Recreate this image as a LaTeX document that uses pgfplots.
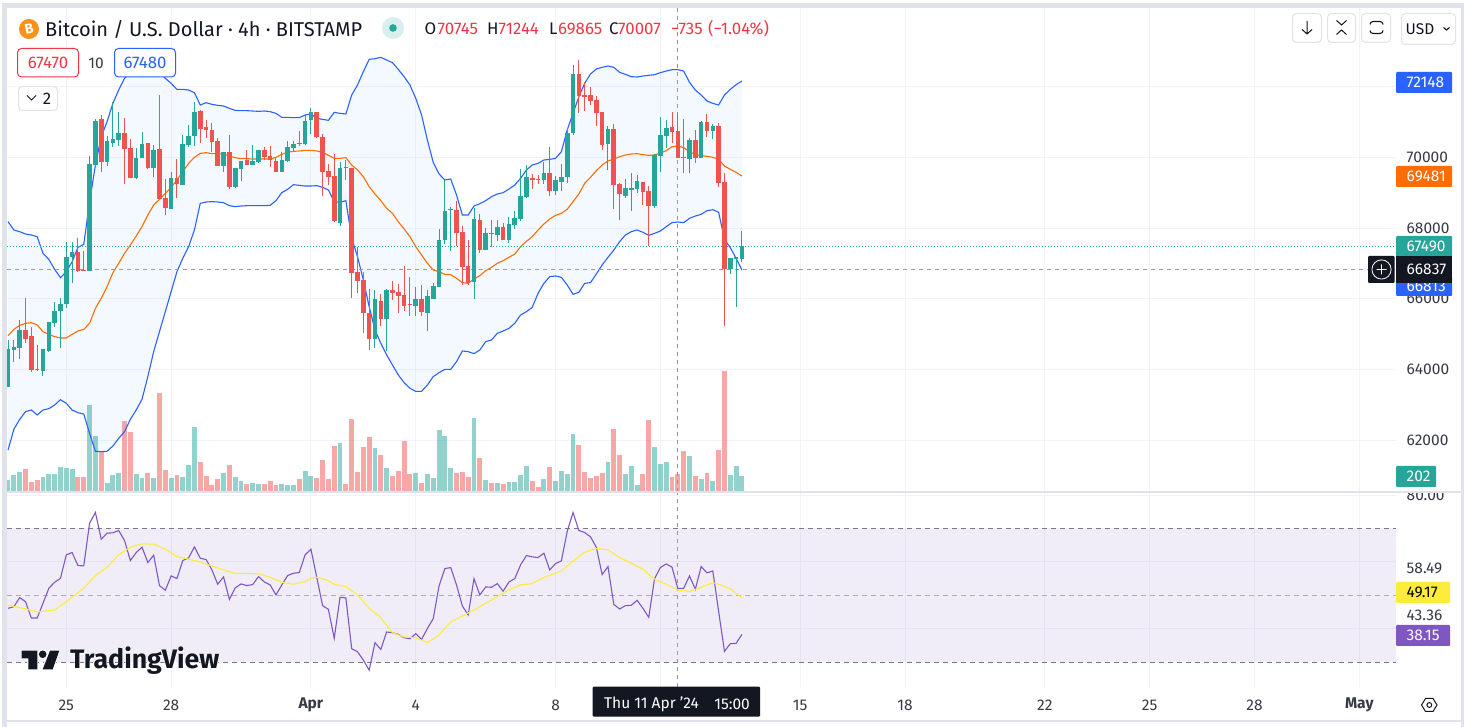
\documentclass[border=0pt]{standalone}
\usepackage{fontspec}
\setmainfont{Fira Sans}
\usepackage{pgfplots}
\usepackage{pgfplotstable}
\pgfplotsset{compat=1.18}
\definecolor{cup}{HTML}{26A69A}
\definecolor{cdown}{HTML}{EF5350}
\definecolor{bblue}{HTML}{2962FF}
\definecolor{bfill}{HTML}{2196F3}
\definecolor{basis}{HTML}{FF6D00}
\definecolor{rsi}{HTML}{7E57C2}
\definecolor{rsima}{HTML}{FFEB3B}
\definecolor{framec}{HTML}{E0E3EB}
\definecolor{gridc}{HTML}{F0F3FA}
\definecolor{darkc}{HTML}{131722}
\definecolor{txtc}{HTML}{363A45}
\definecolor{headred}{HTML}{F23645}
\definecolor{crossc}{HTML}{9598A1}
\definecolor{hlinec}{HTML}{787B86}
\definecolor{btc}{HTML}{F7931A}
% i open high low close volume
\pgfplotstableread{
i o h l c v
0 63516 64835 63497 64581 152
1 64562 64835 64223 64637 215
2 64618 65400 64298 65118 253
6 63959 64581 63827 64581 189
7 64515 65344 64505 65344 227
8 65325 65919 65212 65655 227
9 65655 66013 64618 65843 316
10 65853 67596 65749 67172 303
11 67181 67596 66437 67313 290
14 66795 70036 66795 69810 1099
15 69782 71082 69735 71026 707
17 69876 70602 69763 70451 114
18 70413 71572 70300 70517 215
19 70489 71290 70319 70687 240
22 69415 70272 69386 69980 227
23 69989 70715 69971 70376 177
25 69697 70347 69452 70206 177
28 68548 69575 68548 69405 177
30 69226 70630 69226 70376 189
31 70347 70913 70300 70602 341
32 70602 71572 70319 71280 821
37 69763 70140 69594 70140 240
39 69160 69697 69122 69697 189
40 69678 69895 69330 69895 139
42 69791 70347 69782 69895 114
43 69867 70206 69848 70206 101
47 69584 70140 69584 69923 101
48 69895 70470 69867 70291 88
49 70263 70461 70168 70376 88
51 70376 71195 70347 71026 265
52 71054 71393 70668 71280 202
57 68142 69867 68058 69697 619
63 64863 66248 64609 65994 556
65 65429 66277 64524 66248 303
70 65796 66333 65513 65994 240
72 65598 66248 65089 66079 227
73 65994 66446 65994 66361 177
74 66333 67973 66333 67662 783
75 67662 69358 67549 68482 707
76 68510 68595 67351 68538 303
80 66475 68566 65994 68256 935
82 67379 68001 67379 67860 152
84 67803 68227 67634 68029 114
86 67662 68312 67577 68114 126
87 68086 68482 67973 68284 126
88 68256 69669 68199 68906 215
89 68877 69782 68849 69443 328
92 69358 69867 69245 69556 164
94 69047 69471 68934 69358 139
95 69301 69810 69047 69443 265
96 69443 70828 69273 70687 227
97 70687 72609 70630 72355 733
103 70376 70885 69641 70800 379
106 68906 69386 68849 69132 227
107 69085 69556 68482 69132 328
108 69104 69499 68991 69330 88
111 68623 70093 68566 70065 568
112 70036 71139 69584 70630 354
113 70602 71054 70263 70828 379
117 69952 70545 69556 70489 455
119 69980 71026 69980 70998 164
121 70743 70941 70517 70885 139
124 66842 67153 66701 67153 215
125 67125 67191 65768 67172 328
126 67125 67916 67040 67490 202
}\upbars
\pgfplotstableread{
i o h l c v
3 65118 66013 64741 64863 290
4 64948 65212 63940 63987 126
5 64006 64694 63968 63977 152
12 67323 67709 66767 66795 189
13 66814 67341 66795 66795 189
16 71082 71195 69594 69876 505
20 70687 71111 69245 70244 897
21 70263 70517 69405 69424 758
24 70404 70404 69669 69697 240
26 70234 71761 68830 68830 1250
27 68840 69377 68369 68576 278
29 69405 69952 68840 69245 215
33 71309 71337 70413 70800 379
34 70847 71054 70536 70781 202
35 70772 70960 70159 70432 88
36 70461 70536 69763 69763 164
38 70140 70630 69094 69160 341
41 69914 70206 69782 69782 101
44 70206 70291 69923 69999 101
45 70027 70319 69735 69923 139
46 69895 69971 69584 69584 88
50 70404 70743 70319 70376 164
53 71280 71280 70545 70574 177
54 70574 70658 68906 69584 404
55 69612 69810 69217 69443 164
56 69471 70093 68171 68199 581
58 69725 69923 69358 69697 101
59 69697 69697 66022 66729 922
60 66757 67473 66164 66503 253
61 66531 66757 65023 65598 568
62 65598 66277 64552 64863 695
64 65938 66135 65231 65429 467
66 66248 66503 65966 66164 202
67 66192 66418 65598 66079 265
68 66107 66927 65655 65796 644
69 65853 66616 65513 65824 227
71 65994 66390 65513 65626 114
77 68510 68764 67492 67860 240
78 67888 68058 66390 66899 253
79 66927 67662 66390 66446 189
81 68227 68397 67294 67379 429
83 67860 68227 67464 67831 114
85 68029 68142 67662 67662 101
90 69415 69528 69104 69358 139
91 69386 69499 69245 69358 63
93 69556 70291 68906 69047 316
98 72355 72750 71252 71733 594
99 71761 72128 71309 71704 253
100 71761 71987 71478 71591 177
101 71620 71733 70885 71252 202
102 71280 71280 70206 70347 240
104 70800 70941 68538 69217 796
105 69245 69273 68227 68962 467
109 69301 69301 68651 69019 227
110 69047 69188 67492 68623 909
114 70856 71280 70404 70715 189
115 70743 71252 69980 69980 227
116 70008 71082 69556 69980 518
118 70489 70772 69839 69980 202
120 70998 71224 70574 70743 240
122 70885 70969 69160 69273 530
123 69301 69556 65231 66833 1528
}\downbars
% bollinger: upper basis lower
\pgfplotstableread{
i u b w
0 68180 64958 61725
1 67945 65136 62310
2 67897 65249 62592
3 67832 65306 62809
4 67803 65325 62856
5 67756 65259 62715
6 67285 65071 62856
7 67115 64995 62894
8 66833 64929 62997
9 66597 64892 63148
10 66767 64892 63045
11 67049 64995 62856
12 67455 65089 62781
13 67539 65136 62743
14 68746 65306 62197
15 69782 65730 61688
16 70583 66013 61678
17 71007 66343 61688
18 71525 66738 61838
19 71902 67002 62055
20 72232 67285 62244
21 72373 67521 62592
22 72515 67775 62856
23 72562 68039 63158
24 72562 68369 63799
25 72515 68651 64505
26 72420 68811 65071
27 72232 68981 65636
28 72091 69151 66201
29 71921 69358 66767
30 71921 69594 67144
31 71902 69829 67473
32 71827 69999 67945
33 71478 70112 68698
34 71544 70131 68736
35 71497 70102 68746
36 71469 70102 68736
37 71450 70093 68717
38 71384 70036 68632
39 71327 69989 68604
40 71318 69961 68623
41 71318 69961 68632
42 71309 69952 68632
43 71299 69952 68632
44 71309 69952 68632
45 71290 69952 68642
46 71243 69999 68774
47 71130 70084 69000
48 71130 70140 69094
49 71120 70168 69226
50 71120 70178 69207
51 71195 70197 69188
52 71224 70197 69188
53 71101 70178 69198
54 71073 70140 69151
55 71045 70055 69075
56 71271 69970 68746
57 71243 69970 68727
58 71224 69989 68774
59 71761 69782 67709
60 72044 69641 67191
61 72420 69452 66531
62 72769 69170 65777
63 72788 68962 65118
64 72826 68774 64741
65 72750 68557 64411
66 72675 68416 64128
67 72486 68180 63846
68 72279 67973 63629
69 72044 67756 63469
70 71667 67473 63384
71 71195 67238 63384
72 70489 67002 63563
73 69857 66814 63799
74 69528 66767 63911
75 69358 66691 64006
76 69386 66682 64006
77 68934 66578 64223
78 68369 66456 64524
79 68369 66437 64505
80 68623 66559 64449
81 68689 66654 64552
82 68774 66795 64788
83 68887 66889 64835
84 68962 67002 65023
85 69000 67078 65089
86 69104 67172 65165
87 69217 67266 65306
88 69405 67473 65542
89 69641 67624 65636
90 69782 67756 65758
91 69829 67945 66154
92 69923 68114 66437
93 69942 68256 66625
94 69970 68359 66644
95 70159 68416 66606
96 70772 68529 66390
97 71243 68746 66126
98 71714 68962 66182
99 72091 69264 66437
100 72355 69433 66456
101 72496 69622 66701
102 72543 69782 66955
103 72581 69895 67172
104 72543 69952 67379
105 72402 70018 67615
106 72345 70065 67803
107 72279 70093 67897
108 72270 70102 67945
109 72298 70074 67879
110 72317 70055 67794
111 72336 70065 67850
112 72392 70121 67916
113 72439 70187 68039
114 72477 70300 68152
115 72477 70319 68171
116 72439 70272 68152
117 72119 70159 68274
118 71902 70074 68340
119 71761 70046 68387
120 71591 70027 68491
121 71525 69999 68519
122 71478 69942 68444
123 71761 69754 67681
124 71921 69660 67445
125 72053 69575 67144
126 72157 69471 66814
}\bands
\pgfplotstableread{
i r
0 46.1
1 46.6
2 49.3
3 48.1
4 43.2
5 43.2
6 47.6
7 52.1
8 53.9
9 55.1
10 62.1
11 62.8
12 58.9
13 58.8
14 71.6
15 74.8
16 66.8
17 68.6
18 68.7
19 69.4
20 66.4
21 60.4
22 62.8
23 64.4
24 59.8
25 62.0
26 52.9
27 51.5
28 55.8
29 55.0
30 60.4
31 61.2
32 64.5
33 61.1
34 60.7
35 57.6
36 53.3
37 55.5
38 48.8
39 52.2
40 53.4
41 52.9
42 53.2
43 55.6
44 54.0
45 53.1
46 50.1
47 53.1
48 55.9
49 56.6
50 56.8
51 62.1
52 63.8
53 55.4
54 46.9
55 45.8
56 37.1
57 49.4
58 49.2
59 34.0
60 33.1
61 30.6
62 27.6
63 35.8
64 33.8
65 39.0
66 38.8
67 38.3
68 37.3
69 37.0
70 38.5
71 36.8
72 40.1
73 43.0
74 52.8
75 58.0
76 58.3
77 53.1
78 46.8
79 44.1
80 55.0
81 50.1
82 52.5
83 52.4
84 53.5
85 51.2
86 54.0
87 55.0
88 59.1
89 61.9
90 61.5
91 61.3
92 62.6
93 57.6
94 59.5
95 60.3
96 69.1
97 74.8
98 69.4
99 68.8
100 67.5
101 64.4
102 56.2
103 58.6
104 47.3
105 45.9
106 46.9
107 47.0
108 48.5
109 46.1
110 43.4
111 55.0
112 58.3
113 59.4
114 58.4
115 52.0
116 52.1
117 55.8
118 51.8
119 58.6
120 56.7
121 57.3
122 45.2
123 33.2
124 35.5
125 35.6
126 38.3
}\rsitab
\pgfplotstableread{
i m
0 47.1
3 45.9
5 45.0
8 45.6
10 48.1
13 52.1
15 55.9
17 58.4
19 62.1
21 64.4
23 65.4
25 65.3
27 63.8
29 61.6
32 60.4
35 58.8
37 57.6
39 56.5
41 56.6
43 56.4
45 55.4
47 53.9
49 53.3
51 54.1
52 55.1
53 55.4
55 54.4
56 53.3
58 52.6
60 50.1
62 46.1
64 43.3
66 38.8
68 37.5
70 37.3
72 35.8
74 38.1
76 42.0
78 43.8
80 45.6
82 47.6
84 49.6
86 51.6
88 53.1
90 53.5
92 55.4
94 56.6
95 57.3
97 60.2
99 62.9
101 64.0
103 63.6
105 61.3
107 59.6
109 57.8
111 54.8
113 53.3
115 51.6
117 51.2
119 52.4
121 53.8
122 53.3
124 51.9
126 49.3
}\rsimatab
\newcommand\tickf{\fontsize{15.5}{17}\selectfont}
\newcommand\headf{\fontsize{16.8}{19}\selectfont}
\pgfplotsset{
  pane/.style={
    scale only axis, width=1389pt,
    xmin=-0.18, xmax=238.3,
    axis line style={draw=none}, tick style={draw=none},
    major tick length=0pt,
    xtick=\empty, ytick=\empty,
  },
  mainpane/.style={pane, at={(7pt,235pt)}, anchor=south west, height=484pt,
    ymin=60538, ymax=74221},
  wick/.style={draw=none, mark=none, forget plot,
    error bars/.cd, y dir=plus, y explicit, error mark=none,
    error bar style={line width=1pt, draw=#1}},
  body/.style={draw=none, mark=none, forget plot,
    error bars/.cd, y dir=plus, y explicit, error mark=none,
    error bar style={line width=4.6pt, draw=#1}},
}
% coloured price tags on the right scale: top, bottom, right edge, fill, text colour, label
\newcommand\pricetag[6]{%
  \fill[#4, rounded corners=1pt] (1396,#1) rectangle (#3,#2);
  \node[anchor=west, inner sep=0pt, text=#5, font=\tickf] at (1406.5,{(#1+#2)/2}) {#6};
}
\newcommand\btn[4]{\draw[framec, fill=white, rounded corners=4pt, line width=1pt] (#1,#2) rectangle (#3,#4);}
\begin{document}
\begin{tikzpicture}
\path[use as bounding box] (0,0) rectangle (1464pt,727pt);
\fill[white] (0,0) rectangle (1464pt,727pt);

% price grid and scale
\begin{axis}[mainpane,
  xtick={10,28,52,70,94,112,136,154,178,196,214,232}, xticklabels={},
  ytick={62000,64000,66000,68000,70000,72000},
  scaled y ticks=false,
  grid=major, grid style={gridc, line width=1pt},
  ytick pos=right, yticklabel pos=right,
  yticklabel style={/pgf/number format/fixed, /pgf/number format/1000 sep={}, /pgf/number format/assume math mode=true,
    anchor=west, inner sep=0pt, xshift=10.5pt, font=\tickf, text=txtc},
]
\end{axis}

% volume
\begin{axis}[pane, at={(7pt,235pt)}, anchor=south west, height=484pt, ymin=0, ymax=6112]
\addplot[ycomb, line width=4.9pt, draw=cup, opacity=.5] table[x=i, y=v] {\upbars};
\addplot[ycomb, line width=4.9pt, draw=cdown, opacity=.5] table[x=i, y=v] {\downbars};
\end{axis}

% band fill: lower edge, then the width stacked on it
\begin{axis}[mainpane, stack plots=y]
\addplot[draw=none] table[x=i, y=w] {\bands};
\addplot[draw=none, fill=bfill, fill opacity=.05] table[x=i, y expr=\thisrow{u}-\thisrow{w}] {\bands} \closedcycle;
\end{axis}

% candles and bollinger bands
\begin{axis}[mainpane]
\addplot[bblue, line width=1.1pt] table[x=i, y=u] {\bands};
\addplot[bblue, line width=1.1pt] table[x=i, y=w] {\bands};
\addplot[basis, line width=1.1pt] table[x=i, y=b] {\bands};
\addplot[cup, line width=1pt, dash pattern=on 1pt off 2pt] coordinates {(-0.18,67490) (238.3,67490)};
\addplot[crossc, line width=1pt, dash pattern=on 4pt off 4pt] coordinates {(-0.18,66837) (238.3,66837)};
\addplot[crossc, line width=1pt, dash pattern=on 4pt off 4pt] coordinates {(115,60538) (115,74221)};
\addplot[wick=cup] table[x=i, y=l, y error plus expr=\thisrow{h}-\thisrow{l}] {\upbars};
\addplot[wick=cdown] table[x=i, y=l, y error plus expr=\thisrow{h}-\thisrow{l}] {\downbars};
\addplot[body=cup] table[x=i, y=o, y error plus expr=\thisrow{c}-\thisrow{o}] {\upbars};
\addplot[body=cdown] table[x=i, y=c, y error plus expr=\thisrow{o}-\thisrow{c}] {\downbars};
\end{axis}

% rsi pane
\begin{axis}[pane, at={(7pt,40pt)}, anchor=south west, height=194pt,
  ymin=22.54, ymax=80.63,
  xtick={10,28,52,70,94,112,136,154,178,196,214,232},
  xticklabels={25,28,\textbf{Apr},4,8,,15,18,22,25,28,\textbf{May}},
  xticklabel style={anchor=center, inner sep=0pt, yshift=-18pt, font=\tickf, text=txtc},
  ytick={40,60,80}, yticklabels={,,80.00},
  grid=major, grid style={gridc, line width=1pt},
  ytick pos=right, yticklabel pos=right,
  yticklabel style={anchor=west, inner sep=0pt, xshift=10.5pt, font=\tickf, text=txtc},
]
\addplot[draw=none, fill=rsi, fill opacity=.1] coordinates {(-0.18,30) (238.3,30) (238.3,70) (-0.18,70)} \closedcycle;
\addplot[hlinec, line width=1pt, dash pattern=on 5pt off 4pt] coordinates {(-0.18,70) (238.3,70)};
\addplot[hlinec, opacity=.55, line width=1pt, dash pattern=on 5pt off 4pt] coordinates {(-0.18,50) (238.3,50)};
\addplot[hlinec, line width=1pt, dash pattern=on 5pt off 4pt] coordinates {(-0.18,30) (238.3,30)};
\addplot[crossc, line width=1pt, dash pattern=on 4pt off 4pt] coordinates {(115,22.54) (115,80.63)};
\addplot[rsi, line width=1.1pt] table[x=i, y=r] {\rsitab};
\addplot[rsima, line width=1.1pt] table[x=i, y=m] {\rsimatab};
\end{axis}

\begin{scope}[x=1pt, y=-1pt, yshift=727pt]
% frame
\fill[white] (1396,480) rectangle (1460,491.5);
\fill[framec] (2.3,3.3) rectangle (7,727);
\fill[framec] (2.3,3.3) rectangle (1464,8);
\fill[framec] (1460.5,3.3) rectangle (1464,727);
\fill[framec] (7,491.3) rectangle (1460.5,492.8);
\fill[framec] (7,720.5) rectangle (1460.5,721.8);

% header
\fill[btc] (29,29) circle (10);
\node[text=white, font=\fontsize{14}{14}\selectfont\bfseries, rotate=12] at (29,29) {B};
\node[anchor=west, inner sep=0pt, text=darkc, font=\fontsize{20}{22}\selectfont] at (45,29) {Bitcoin / U.S. Dollar · 4h · BITSTAMP};
\fill[cup!18] (393,28) circle (11);
\fill[cup] (393,28) circle (3.8);
\begin{scope}[every node/.style={anchor=west, inner sep=0pt, font=\headf}]
\node[text=darkc] at (424.5,29) {O};
\node[text=headred] at (437.5,29) {70745};
\node[text=darkc] at (487,29) {H};
\node[text=headred] at (498.5,29) {71244};
\node[text=darkc] at (549,29) {L};
\node[text=headred] at (558,29) {69865};
\node[text=darkc] at (609,29) {C};
\node[text=headred] at (618,29) {70007};
\node[text=headred] at (671,29) {−735};
\node[text=headred] at (708,29) {(−1.04\%)};
\end{scope}
\draw[headred, fill=white, rounded corners=4pt, line width=1pt] (17.5,48.5) rectangle (78.5,77);
\node[text=headred, font=\headf] at (48,63) {67470};
\node[text=txtc, font=\fontsize{15.5}{17}\selectfont] at (96,63) {10};
\draw[bblue, fill=white, rounded corners=4pt, line width=1pt] (114.5,48.5) rectangle (175.5,77);
\node[text=bblue, font=\headf] at (145,63) {67480};
\btn{18.5}{86.5}{57.5}{110.5}
\draw[darkc, line width=1pt] (27,95.5) -- (31.5,100) -- (36,95.5);
\node[text=darkc, font=\headf] at (47,98.5) {2};

% buttons top right
\btn{1292.5}{13.5}{1321.5}{42.5}
\draw[darkc, line width=1pt] (1307,21) -- (1307,34) (1302,29.5) -- (1307,34) -- (1312,29.5);
\btn{1327.5}{13.5}{1355.5}{42.5}
\draw[darkc, line width=1pt] (1336.5,20.5) -- (1341.5,25) -- (1346.5,20.5) (1336.5,34.5) -- (1341.5,30) -- (1346.5,34.5);
\btn{1361.5}{13.5}{1390.5}{42.5}
\draw[darkc, line width=1.1pt, rounded corners=3pt] (1370,24.5) -- (1370,21.5) -- (1383,21.5) -- (1383,24.5) (1370,30.5) -- (1370,33.5) -- (1383,33.5) -- (1383,30.5);
\btn{1401.5}{13.5}{1455.5}{44.5}
\node[text=darkc, font=\fontsize{15.5}{17}\selectfont, anchor=west, inner sep=0pt] at (1405.5,29.5) {USD};
\draw[darkc, line width=1.1pt] (1443.5,27.5) -- (1446.5,30) -- (1449.5,27.5);

% price tags
\fill[white] (1396,557.5) rectangle (1452,578);
\node[anchor=west, inner sep=0pt, text=txtc, font=\tickf] at (1406.5,568) {58.49};
\pricetag{582}{603}{1450}{rsima}{black}{49.17}
\fill[white] (1396,604) rectangle (1452,624);
\node[anchor=west, inner sep=0pt, text=txtc, font=\tickf] at (1406.5,615) {43.36};
\pricetag{625}{646}{1450}{rsi}{white}{38.15}
\pricetag{72}{93}{1452}{bblue}{white}{72148}
\pricetag{166}{187}{1452}{basis}{white}{69481}
\pricetag{276}{296}{1452}{bblue}{white}{66813}
\pricetag{236}{257}{1452}{cup}{white}{67490}
\fill[darkc, rounded corners=1pt] (1368,256) rectangle (1394.5,283);
\fill[darkc] (1396,256) rectangle (1452,283);
\node[anchor=west, inner sep=0pt, text=white, font=\tickf] at (1406.5,269.5) {66837};
\draw[white, line width=.8pt] (1381.5,269.5) circle (9.6) (1376.5,269.5) -- (1386.5,269.5) (1381.5,264.5) -- (1381.5,274.5);
\pricetag{466}{487}{1436}{cup}{white}{202}

% time label
\fill[darkc, rounded corners=1pt] (592.7,686.7) rectangle (760,716.7);
\node[anchor=west, inner sep=0pt, text=white, font=\tickf] at (604,704) {Thu 11 Apr '24};
\node[anchor=east, inner sep=0pt, text=white, font=\tickf] at (750,704) {15:00};

% scale settings icon
\draw[darkc, line width=1pt] (1421.5,705) -- (1425.5,698.5) -- (1433,698.5) -- (1437,705) -- (1433,711.5) -- (1425.5,711.5) -- cycle;
\draw[darkc, line width=1pt] (1429.3,705) circle (2.4);

% watermark
\draw[white, fill=darkc, line width=2pt, line join=round] (21.7,650.7) -- (37.3,650.7) -- (37.3,669.3) -- (28.3,669.3) -- (28.3,658.3) -- (21.7,658.3) -- cycle;
\draw[white, fill=darkc, line width=2pt] (42.7,654.3) circle (3.8);
\draw[white, fill=darkc, line width=2pt, line join=round] (50,650.7) -- (59.3,650.7) -- (52.7,669.3) -- (42.7,669.3) -- cycle;
\fill[darkc] (21.7,650.7) -- (37.3,650.7) -- (37.3,669.3) -- (28.3,669.3) -- (28.3,658.3) -- (21.7,658.3) -- cycle;
\fill[darkc] (42.7,654.3) circle (3.8);
\fill[darkc] (50,650.7) -- (59.3,650.7) -- (52.7,669.3) -- (42.7,669.3) -- cycle;
\node[anchor=west, inner sep=0pt, text=white, font=\fontsize{26.7}{28}\selectfont\bfseries\addfontfeature{FakeBold=4}] at (70,661) {TradingView};
\node[anchor=west, inner sep=0pt, text=darkc, font=\fontsize{26.7}{28}\selectfont\bfseries] at (70,661) {TradingView};
\end{scope}
\end{tikzpicture}
\end{document}
